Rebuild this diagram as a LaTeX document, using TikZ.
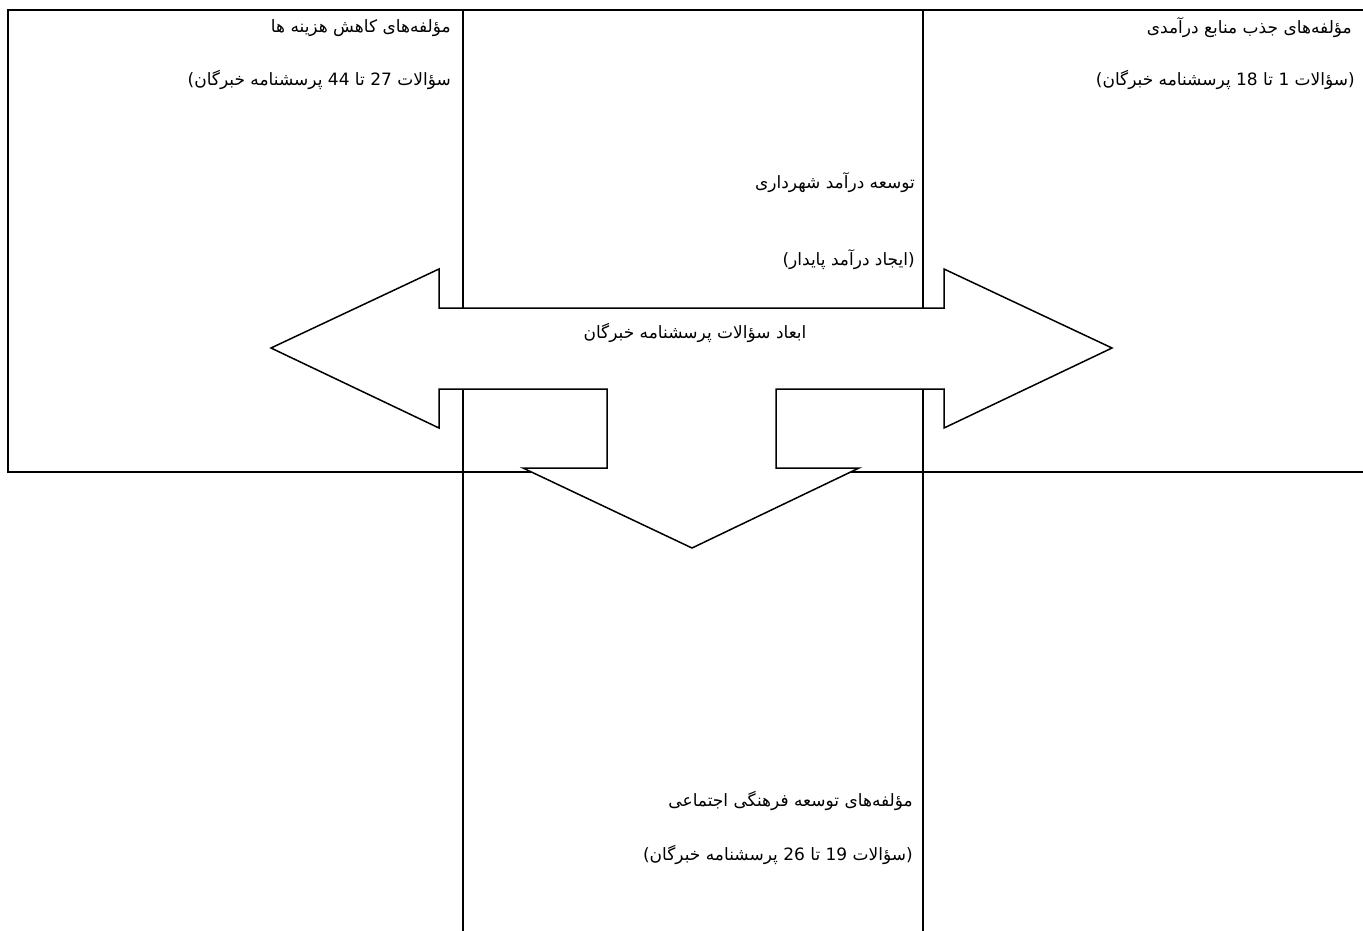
\documentclass[tikz,border=0pt]{standalone}
\usepackage{fontspec}
\TeXXeTstate=1
\newfontfamily\fa[Script=Arabic]{DejaVu Sans}
\newfontfamily\lat{DejaVu Sans}
\newcommand{\lp}{{\lat(}}
\newcommand{\rp}{{\lat)}}
\tikzset{
  frame/.style={line width=2pt, draw=black},
  bigarrow/.style={line width=1.5pt, draw=black, fill=white, line join=miter},
  lbl/.style={anchor=east, inner sep=0pt, font=\fa\fontsize{17}{20}\selectfont},
  clbl/.style={anchor=center, inner sep=0pt, font=\fa\fontsize{17}{20}\selectfont}
}
\begin{document}
\begin{tikzpicture}[x=1pt,y=-1pt]
\useasboundingbox (0,0) rectangle (1363,930);
\begin{scope}
\clip (0,0) rectangle (1363,930);
% outer wide box
\draw[frame] (8,10) rectangle (1380,472);
% central tall box
\draw[frame] (463,10) rectangle (923,960);
\end{scope}
% three-way arrow
\draw[bigarrow] (271,348) -- (439,269) -- (439,308) -- (944,308) -- (944,269)
  -- (1112,348) -- (944,428) -- (944,389) -- (776,389) -- (776,468) -- (859,468)
  -- (692,548) -- (523,468) -- (607,468) -- (607,389) -- (439,389) -- (439,428) -- cycle;
% labels
\node[lbl] (l1) at (451,28) {\beginR مؤلفه‌های کاهش هزینه ها\endR};
\node[lbl] (l2) at (451,80) {\lp\beginR سؤالات 27 تا 44 پرسشنامه خبرگان\endR};
\node[lbl] (r1) at (1352,28) {\beginR مؤلفه‌های جذب منابع درآمدی\endR};
\node[lbl] (r2) at (1355,80) {\lp\beginR سؤالات 1 تا 18 پرسشنامه خبرگان\endR\rp};
\node[lbl] (c1) at (915,183) {\beginR توسعه درآمد شهرداری\endR};
\node[lbl] (c2) at (915,260) {\lp\beginR ایجاد درآمد پایدار\endR\rp};
\node[clbl] (ar) at (695,333) {\beginR ابعاد سؤالات پرسشنامه خبرگان\endR};
\node[lbl] (b1) at (913,801) {\beginR مؤلفه‌های توسعه فرهنگی اجتماعی\endR};
\node[lbl] (b2) at (913,855) {\lp\beginR سؤالات 19 تا 26 پرسشنامه خبرگان\endR\rp};
\end{tikzpicture}
\end{document}
